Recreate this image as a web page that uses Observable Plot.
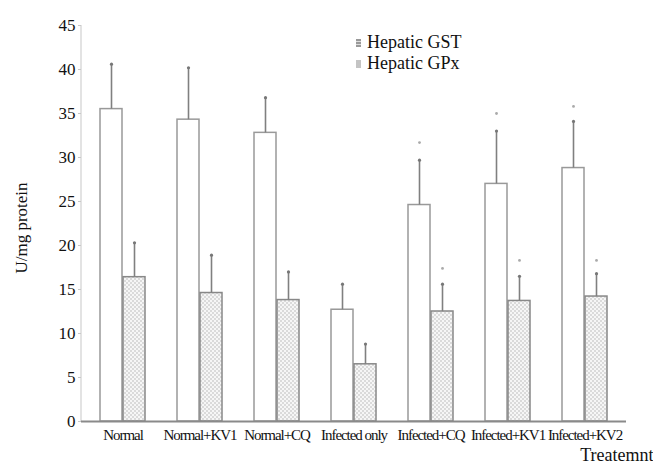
<!DOCTYPE html>
<html>
<head>
<meta charset="utf-8">
<script src="https://cdn.jsdelivr.net/npm/d3@7"></script>
<script src="https://cdn.jsdelivr.net/npm/@observablehq/plot@0.6"></script>
<style>
  body { margin: 0; background: #fff; }
  #wrap { position: relative; width: 653px; height: 465px; font-family: "Liberation Serif", serif; }
  #legend { position: absolute; left: 356px; top: 32px; font-size: 18px; color: #111; line-height: 21px; }
  #legend .row { display: flex; align-items: center; }
  #legend .sw { width: 5px; height: 8px; margin-right: 6px; }
  #ylabel { position: absolute; left: 22px; top: 228px; transform: translate(-50%, -50%) rotate(-90deg); font-size: 17px; color: #111; white-space: nowrap; }
  svg text { font-family: "Liberation Serif", serif; }
  g[aria-label="x-axis tick label"] text { font-size: 15px; letter-spacing: -1.05px; }
  g[aria-label="y-axis tick"] path { stroke: #c8c8c8; }
</style>
</head>
<body>
<div id="wrap">
  <div id="chart"></div>
  <div id="ylabel"></div>
  <div id="legend">
    <div class="row"><div class="sw" style="background:repeating-linear-gradient(#999 0 2px,#ddd 2px 3px)"></div>Hepatic GST</div>
    <div class="row"><div class="sw" style="background:#c4c4c4"></div>Hepatic GPx</div>
  </div>
</div>
<script>
const groups = ["Normal", "Normal+KV1", "Normal+CQ", "Infected only", "Infected+CQ", "Infected+KV1", "Infected+KV2"];
const gst = [35.5, 34.3, 32.8, 12.7, 24.6, 27.0, 28.8];
const gstErrTop = [40.6, 40.2, 36.8, 15.6, 29.7, 33.0, 34.1];
const gstMark = [null, null, null, null, 31.7, 35.0, 35.8];
const gpx = [16.4, 14.6, 13.8, 6.5, 12.5, 13.7, 14.2];
const gpxErrTop = [20.3, 18.9, 17.0, 8.8, 15.6, 16.5, 16.8];
const gpxMark = [null, null, null, null, 17.4, 18.3, 18.3];
const yTicks = [0, 5, 10, 15, 20, 25, 30, 35, 40, 45];
const yLabel = "U/mg protein";
const xLabel = "Treatemnt";

document.getElementById("ylabel").textContent = yLabel;

const rows = groups.map((g, i) => ({
  group: g, gst: gst[i], gstTop: gstErrTop[i], gstMark: gstMark[i],
  gpx: gpx[i], gpxTop: gpxErrTop[i], gpxMark: gpxMark[i]
}));
const gstMarks = rows.filter(d => d.gstMark != null);
const gpxMarks = rows.filter(d => d.gpxMark != null);

const half = 23;
const mLeft = 81;
const plot = Plot.plot({
  width: 653,
  height: 465,
  marginLeft: mLeft,
  marginRight: 27,
  marginTop: 25,
  marginBottom: 44,
  style: { fontFamily: "Liberation Serif", fontSize: "17px", color: "#111", background: "#fff" },
  x: { domain: groups, paddingInner: 0.41, paddingOuter: 0.205, tickSize: 0, tickPadding: 8, label: null },
  y: { domain: [0, 45], ticks: yTicks, tickSize: 3, tickPadding: 3, label: null },
  marks: [
    Plot.barY(rows, { x: "group", y: "gst", insetRight: half, fill: "#fff", stroke: "#999", strokeWidth: 1.5 }),
    Plot.barY(rows, { x: "group", y: "gpx", insetLeft: half, fill: "url(#gpxpat)", stroke: "#888", strokeWidth: 1.5 }),
    Plot.ruleX(rows, { x: "group", y1: "gst", y2: "gstTop", dx: -half / 2, stroke: "#808080", strokeWidth: 1.6 }),
    Plot.ruleX(rows, { x: "group", y1: "gpx", y2: "gpxTop", dx: half / 2, stroke: "#808080", strokeWidth: 1.6 }),
    Plot.dot(rows, { x: "group", y: "gstTop", dx: -half / 2, r: 1.6, fill: "#777", stroke: null }),
    Plot.dot(rows, { x: "group", y: "gpxTop", dx: half / 2, r: 1.6, fill: "#777", stroke: null }),
    Plot.dot(gstMarks, { x: "group", y: "gstMark", dx: -half / 2, r: 1.4, fill: "#aaa", stroke: null }),
    Plot.dot(gpxMarks, { x: "group", y: "gpxMark", dx: half / 2, r: 1.4, fill: "#aaa", stroke: null }),
    Plot.ruleY([0], { stroke: "#8a8a8a", strokeWidth: 2 }),
    Plot.text([xLabel], { frameAnchor: "bottom-right", dx: 27, dy: 39, textAnchor: "end", fontSize: 18, fill: "#111" })
  ]
});

const svg = d3.select(plot);
const defs = svg.insert("defs", ":first-child");
const pat = defs.append("pattern").attr("id", "gpxpat").attr("patternUnits", "userSpaceOnUse").attr("width", 4).attr("height", 4);
pat.append("rect").attr("width", 4).attr("height", 4).attr("fill", "#f6f6f6");
pat.append("rect").attr("width", 2).attr("height", 2).attr("fill", "#dadada");
pat.append("rect").attr("x", 2).attr("y", 2).attr("width", 2).attr("height", 2).attr("fill", "#dadada");

// faint y-axis line spanning the y scale range
const yr = plot.scale("y").range;
svg.insert("line", "defs + *")
  .attr("x1", mLeft).attr("x2", mLeft)
  .attr("y1", yr[0]).attr("y2", yr[1])
  .attr("stroke", "#d0d0d0").attr("stroke-width", 1.2);

document.getElementById("chart").appendChild(plot);
</script>
</body>
</html>
